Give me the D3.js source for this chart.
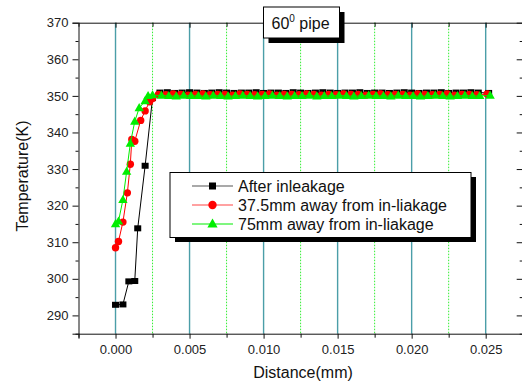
<!DOCTYPE html>
<html><head><meta charset="utf-8">
<script src="https://cdn.jsdelivr.net/npm/d3@7"></script>
<style>
body{margin:0;background:#fff;}
text{font-family:Arial,"Liberation Sans",sans-serif;}
</style></head>
<body>
<svg id="c" width="522" height="383"></svg>
<script>
// ---- data ----
const xTicks = [0.000, 0.005, 0.010, 0.015, 0.020, 0.025];
const xMinorTicks = [-0.0025, 0.0025, 0.0075, 0.0125, 0.0175, 0.0225, 0.0275];
const yTicks = [290, 300, 310, 320, 330, 340, 350, 360, 370];
const yMinorTicks = [285, 295, 305, 315, 325, 335, 345, 355, 365];
const seriesNames = ["After inleakage", "37.5mm away from in-liakage", "75mm away from in-liakage"];

// rising part of each series
const blackRampX = [0.0000, 0.0005, 0.0009, 0.0013, 0.0015, 0.0020, 0.0025];
const blackRampY = [292.9, 293.0, 299.3, 299.4, 313.8, 330.9, 349.4];
const redRampX = [0.0000, 0.0002, 0.0005, 0.0008, 0.0010, 0.0011, 0.0013, 0.0017, 0.0020, 0.0023, 0.0025];
const redRampY = [308.5, 310.2, 315.5, 323.5, 331.3, 338.1, 337.6, 343.3, 345.9, 348.4, 349.3];
const greenRampX = [0.0000, 0.0002, 0.0005, 0.00075, 0.0010, 0.0013, 0.0016, 0.0020, 0.0022, 0.0025];
const greenRampY = [315.0, 315.7, 321.6, 329.3, 337.0, 343.0, 346.7, 348.6, 350.0, 350.2];

// plateau part (shared distances)
const flatX = [0.0030,0.0035,0.0040,0.0045,0.0050,0.0055,0.0060,0.0065,0.0070,0.0075,
               0.0080,0.0085,0.0090,0.0095,0.0100,0.0105,0.0110,0.0115,0.0120,0.0125,
               0.0130,0.0135,0.0140,0.0145,0.0150,0.0155,0.0160,0.0165,0.0170,0.0175,
               0.0180,0.0185,0.0190,0.0195,0.0200,0.0205,0.0210,0.0215,0.0220,0.0225,
               0.0230,0.0235,0.0240,0.0245,0.0252];
const blackFlatY = [350.9,351.0,350.8,350.9,351.0,350.9,350.8,350.9,351.0,350.9,
                    350.8,350.9,350.9,351.0,350.8,350.9,350.9,350.8,351.0,350.9,
                    350.8,350.9,351.0,350.9,350.8,350.9,350.9,351.0,350.8,350.9,
                    350.9,350.8,350.9,351.0,350.9,350.8,350.9,350.9,351.0,350.8,
                    350.9,350.9,351.0,350.9,350.8];
const redFlatY = [350.4,350.3,350.5,350.4,350.2,350.4,350.5,350.3,350.4,350.4,
                  350.2,350.5,350.4,350.3,350.4,350.5,350.2,350.4,350.4,350.3,
                  350.5,350.4,350.2,350.4,350.3,350.5,350.4,350.4,350.2,350.4,
                  350.5,350.3,350.4,350.4,350.2,350.5,350.4,350.3,350.4,350.5,
                  350.2,350.4,350.4,350.3,350.5];
const greenFlatY = [350.1,350.0,349.9,350.1,350.0,350.0,349.9,350.1,350.0,349.9,
                    350.0,350.1,350.0,349.9,350.0,350.1,350.0,349.9,350.0,350.0,
                    350.1,349.9,350.0,350.0,350.1,350.0,349.9,350.0,350.1,350.0,
                    350.0,349.9,350.1,350.0,350.0,349.9,350.0,350.1,350.0,349.9,
                    350.0,350.1,350.0,350.0,350.1];

// ---- chart ----
const svg = d3.select("#c");
const L = 78.5, R = 522.7, T = 22.7, B = 333.7;
const x = d3.scaleLinear().domain([-0.0025, 0.0275]).range([L, R]);
const y = d3.scaleLinear().domain([285, 370]).range([B, T]);

const zip = (xs, ys) => xs.map((v, i) => [v, ys[i]]);
const blackData = zip(blackRampX, blackRampY).concat(zip(flatX, blackFlatY));
const redData = zip(redRampX, redRampY).concat(zip(flatX.map(v => v - 0.0001), redFlatY));
const greenData = zip(greenRampX, greenRampY).concat(zip(flatX.map(v => v + 0.0001), greenFlatY));

// gridlines
const grid = svg.append("g");
grid.selectAll("line.maj").data(xTicks).join("line")
  .attr("x1", d => x(d)).attr("x2", d => x(d)).attr("y1", T).attr("y2", B)
  .attr("stroke", "#4b9ea8").attr("stroke-width", 1.4);
grid.selectAll("line.min").data(xMinorTicks.filter(d => d > -0.002 && d < 0.027)).join("line")
  .attr("x1", d => x(d)).attr("x2", d => x(d)).attr("y1", T).attr("y2", B)
  .attr("stroke", "#33ee33").attr("stroke-width", 1).attr("stroke-dasharray", "1.5,1.5");

// axes
const fmt = d3.format(".3f");
svg.append("g").attr("transform", `translate(0,${B})`)
  .call(d3.axisBottom(x).tickValues(xTicks).tickFormat(fmt).tickSize(5).tickPadding(6));
svg.append("g").attr("transform", `translate(0,${B})`)
  .call(d3.axisBottom(x).tickValues(xMinorTicks).tickFormat("").tickSize(4))
  .select(".domain").remove();
svg.append("g").attr("transform", `translate(${L},0)`)
  .call(d3.axisLeft(y).tickValues(yTicks).tickSize(6).tickPadding(4));
svg.append("g").attr("transform", `translate(${L},0)`)
  .call(d3.axisLeft(y).tickValues(yMinorTicks).tickFormat("").tickSize(3))
  .select(".domain").remove();
svg.append("g").attr("transform", `translate(0,${T})`)
  .call(d3.axisTop(x).tickValues(xTicks).tickFormat("").tickSizeInner(-5).tickSizeOuter(0));
svg.append("g").attr("transform", `translate(0,${T})`)
  .call(d3.axisTop(x).tickValues(xMinorTicks).tickFormat("").tickSizeInner(-4).tickSizeOuter(0))
  .select(".domain").remove();
svg.append("g").attr("transform", `translate(${R},0)`)
  .call(d3.axisRight(y).tickValues(yTicks).tickFormat("").tickSizeInner(-6).tickSizeOuter(0));
svg.append("g").attr("transform", `translate(${R},0)`)
  .call(d3.axisRight(y).tickValues(yMinorTicks).tickFormat("").tickSizeInner(-3).tickSizeOuter(0))
  .select(".domain").remove();

svg.selectAll(".tick text").attr("font-size", 13).attr("fill", "#222")
  .attr("font-family", "Arial, 'Liberation Sans', sans-serif");
svg.selectAll(".domain, .tick line").attr("stroke", "#111");

// axis titles
svg.append("text").attr("x", 303).attr("y", 378).attr("text-anchor", "middle")
  .attr("font-size", 16).attr("fill", "#111").text("Distance(mm)");
svg.append("text").attr("transform", "translate(28,176) rotate(-90)").attr("text-anchor", "middle")
  .attr("font-size", 16).attr("fill", "#111").text("Temperature(K)");

// series
const line = d3.line().x(d => x(d[0])).y(d => y(d[1]));
const colors = ["#000000", "#ff0000", "#00ee00"];
const datasets = [blackData, redData, greenData];
const tri = d3.symbol().type(d3.symbolTriangle).size(38);
datasets.forEach((data, i) => {
  const g = svg.append("g");
  g.append("path").datum(data).attr("d", line).attr("fill", "none")
    .attr("stroke", colors[i]).attr("stroke-width", 1);
  if (i === 0) {
    g.selectAll("rect").data(data).join("rect")
      .attr("x", d => x(d[0]) - 3.5).attr("y", d => y(d[1]) - 3)
      .attr("width", 7).attr("height", 6).attr("fill", colors[i]);
  } else if (i === 1) {
    g.selectAll("circle").data(data).join("circle")
      .attr("cx", d => x(d[0])).attr("cy", d => y(d[1])).attr("r", 3.7).attr("fill", colors[i]);
  } else {
    g.selectAll("path.m").data(data).join("path").attr("class", "m")
      .attr("transform", d => `translate(${x(d[0])},${y(d[1]) + 0.5})`)
      .attr("d", tri).attr("fill", colors[i]);
  }
});

// legend
const lg = svg.append("g");
lg.append("rect").attr("x", 175).attr("y", 177).attr("width", 301).attr("height", 65).attr("fill", "#000");
lg.append("rect").attr("x", 170).attr("y", 172.5).attr("width", 301).attr("height", 65)
  .attr("fill", "#fff").attr("stroke", "#000").attr("stroke-width", 1);
const rowsY = [186, 205, 224];
const lineColors = ["#555555", "#ff4444", "#00ee00"];
seriesNames.forEach((n, i) => {
  lg.append("line").attr("x1", 192).attr("x2", 233).attr("y1", rowsY[i]).attr("y2", rowsY[i])
    .attr("stroke", lineColors[i]).attr("stroke-width", 1.2);
  const cx = 212.5, cy = rowsY[i];
  if (i === 0) lg.append("rect").attr("x", cx - 3.5).attr("y", cy - 3.5).attr("width", 7).attr("height", 7).attr("fill", "#000");
  else if (i === 1) lg.append("circle").attr("cx", cx).attr("cy", cy).attr("r", 4.2).attr("fill", "#ff0000");
  else lg.append("path").attr("transform", `translate(${cx},${cy + 0.5})`).attr("d", d3.symbol().type(d3.symbolTriangle).size(45)).attr("fill", "#00ee00");
  lg.append("text").attr("x", 238).attr("y", rowsY[i] + 5.5).attr("font-size", 16).attr("fill", "#111").text(n);
});

// title box
const tb = svg.append("g");
tb.append("rect").attr("x", 268.5).attr("y", 12).attr("width", 76).attr("height", 31).attr("fill", "#000");
tb.append("rect").attr("x", 263.5).attr("y", 7).attr("width", 76).attr("height", 31)
  .attr("fill", "#fff").attr("stroke", "#000").attr("stroke-width", 1);
const tt = tb.append("text").attr("x", 271.5).attr("y", 29).attr("font-size", 16).attr("fill", "#111");
tt.append("tspan").text("60");
tt.append("tspan").attr("font-size", 10).attr("dy", -7).text("0");
tt.append("tspan").attr("dy", 7).text(" pipe");
</script>
</body></html>
